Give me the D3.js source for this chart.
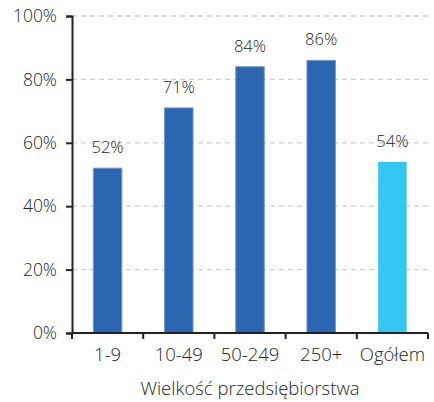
<!DOCTYPE html>
<html><head><meta charset="utf-8">
<script src="https://cdn.jsdelivr.net/npm/d3@7"></script>
<style>body{margin:0;background:#fff}svg{display:block}text{font-family:"Open Sans",sans-serif;font-weight:300;fill:#262626}</style>
</head><body><svg id="c" width="434" height="402"></svg>
<script>
const categories = ["1-9","10-49","50-249","250+","Ogółem"];
const values = [52,71,84,86,54];
const colors = ["#2d66b0","#2d66b0","#2d66b0","#2d66b0","#35c5f2"];
const yTicks = [0,20,40,60,80,100];
const xTitle = "Wielkość przedsiębiorstwa";

const svg = d3.select("#c");
const m = {l:72, r:6, t:16, b:69};
const W = 434, H = 402;
const x = d3.scaleBand().domain(categories).range([m.l, W-m.r]).paddingInner(0.6).paddingOuter(0.3);
const y = d3.scaleLinear().domain([0,100]).range([H-m.b, m.t]);
const FF = "'Open Sans',sans-serif";
const TC = "#262626";

// grid
svg.append("g").selectAll("line").data(yTicks.filter(d=>d>0)).join("line")
  .attr("x1", m.l).attr("x2", W-m.r).attr("y1", d=>y(d)).attr("y2", d=>y(d))
  .attr("stroke","#cfcfcf").attr("stroke-width",1.3).attr("stroke-dasharray","5,4");

// bars
svg.append("g").selectAll("rect").data(values).join("rect")
  .attr("x",(d,i)=>x(categories[i])).attr("width",x.bandwidth())
  .attr("y",d=>y(d)).attr("height",d=>y(0)-y(d))
  .attr("fill",(d,i)=>colors[i])
  .attr("stroke",(d,i)=>i<4?"#6f97cc":"none").attr("stroke-width",1);

// value labels
svg.append("g").selectAll("text").data(values).join("text")
  .attr("x",(d,i)=>x(categories[i])+x.bandwidth()/2).attr("y",d=>y(d)-15)
  .attr("text-anchor","middle").attr("font-size",16.5).text(d=>d+"%");

// y axis
const ya = svg.append("g").attr("transform",`translate(${m.l},0)`)
  .call(d3.axisLeft(y).tickValues(yTicks).tickFormat(d=>d+"%").tickSize(6).tickPadding(9));
ya.select(".domain").attr("stroke","#222").attr("stroke-width",2);
ya.selectAll(".tick line").attr("stroke","#222").attr("stroke-width",2);
ya.selectAll(".tick text").attr("font-size",17.5).attr("fill",TC).style("font-family",FF).style("font-weight",300);

// x axis
const xa = svg.append("g").attr("transform",`translate(0,${y(0)})`)
  .call(d3.axisBottom(x).tickSize(0).tickPadding(15));
xa.select(".domain").attr("stroke","#222").attr("stroke-width",2).attr("d",`M${m.l},0H${W-m.r}`);
xa.selectAll(".tick text").attr("font-size",18.5).attr("fill",TC).style("font-family",FF).style("font-weight",300);
// boundary ticks
svg.append("g").selectAll("line").data(d3.range(categories.length+1)).join("line")
  .attr("x1",i=>m.l+i*(W-m.r-m.l)/categories.length).attr("x2",i=>m.l+i*(W-m.r-m.l)/categories.length)
  .attr("y1",y(0)).attr("y2",y(0)+6).attr("stroke","#222").attr("stroke-width",2);

svg.append("text").attr("x",(m.l+W-m.r)/2).attr("y",395).attr("text-anchor","middle")
  .attr("font-size",18.5).text(xTitle);
</script></body></html>
